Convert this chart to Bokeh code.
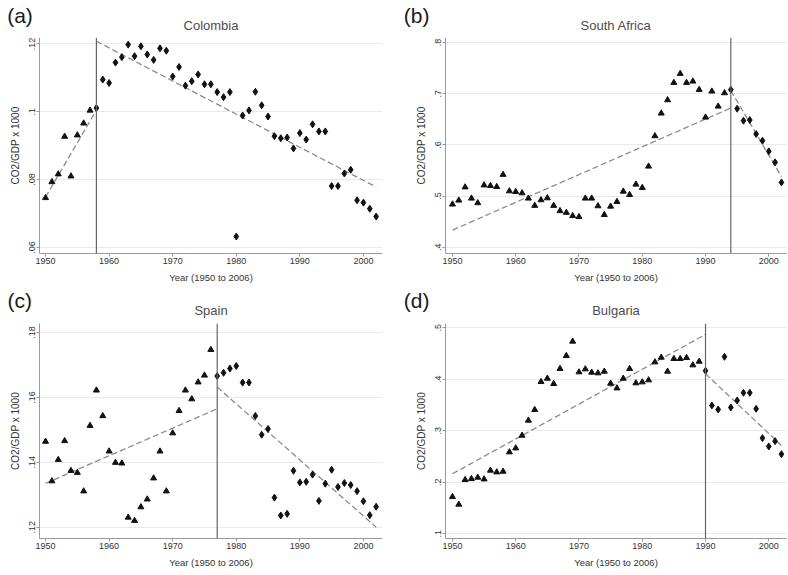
from bokeh.plotting import figure
from bokeh.layouts import gridplot
from bokeh.models import Span, FixedTicker, Title
from bokeh.embed import file_html
from bokeh.resources import INLINE

# ---------------- data ----------------
years = list(range(1950, 2003))

x_ticks = [1950, 1960, 1970, 1980, 1990, 2000]
x_tick_labels = ["1950", "1960", "1970", "1980", "1990", "2000"]

colombia = [0.0746, 0.0793, 0.0816, 0.0927, 0.0810, 0.0931, 0.0966, 0.1004, 0.1011, 0.1095,
            0.1085, 0.1145, 0.1161, 0.1198, 0.1164, 0.1193, 0.1169, 0.1153, 0.1187, 0.1180,
            0.1104, 0.1132, 0.1077, 0.1090, 0.1110, 0.1081, 0.1081, 0.1058, 0.1043, 0.1058,
            0.0632, 0.0989, 0.1004, 0.1059, 0.1019, 0.0986, 0.0928, 0.0922, 0.0924, 0.0892,
            0.0937, 0.0918, 0.0963, 0.0942, 0.0942, 0.0781, 0.0781, 0.0818, 0.0829, 0.0739,
            0.0732, 0.0714, 0.0691]
colombia_break = 1958
colombia_fit_pre_x = [1950, 1958]
colombia_fit_pre_y = [0.0748, 0.1005]
colombia_fit_post_x = [1958, 2002]
colombia_fit_post_y = [0.1208, 0.0778]
colombia_yticks = [0.06, 0.08, 0.1, 0.12]
colombia_ylabels = [".06", ".08", ".1", ".12"]

south_africa = [0.4839, 0.4916, 0.5174, 0.4955, 0.4865, 0.5213, 0.5200, 0.5181, 0.5419, 0.5097,
                0.5084, 0.5058, 0.4955, 0.4813, 0.4923, 0.4961, 0.4813, 0.4710, 0.4677, 0.4613,
                0.4594, 0.4955, 0.4955, 0.4805, 0.4635, 0.4798, 0.4889, 0.5091, 0.5026, 0.5228,
                0.5163, 0.5580, 0.6173, 0.6616, 0.6876, 0.7215, 0.7391, 0.7215, 0.7241, 0.7078,
                0.6537, 0.7046, 0.6752, 0.7013, 0.7078, 0.6707, 0.6472, 0.6485, 0.6212, 0.6081,
                0.5873, 0.5658, 0.5267]
south_africa_break = 1994
south_africa_fit_pre_x = [1950, 1994]
south_africa_fit_pre_y = [0.4335, 0.6720]
south_africa_fit_post_x = [1994, 2002]
south_africa_fit_post_y = [0.7060, 0.5380]
south_africa_yticks = [0.4, 0.5, 0.6, 0.7, 0.8]
south_africa_ylabels = [".4", ".5", ".6", ".7", ".8"]

spain = [0.1464, 0.1342, 0.1408, 0.1466, 0.1374, 0.1368, 0.1311, 0.1513, 0.1622, 0.1543,
         0.1434, 0.1399, 0.1397, 0.1230, 0.1220, 0.1262, 0.1286, 0.1351, 0.1434, 0.1311,
         0.1490, 0.1559, 0.1622, 0.1595, 0.1647, 0.1668, 0.1747, 0.1666, 0.1676, 0.1689,
         0.1697, 0.1646, 0.1646, 0.1543, 0.1485, 0.1503, 0.1291, 0.1236, 0.1241, 0.1374,
         0.1338, 0.1340, 0.1362, 0.1281, 0.1334, 0.1377, 0.1324, 0.1336, 0.1330, 0.1311,
         0.1280, 0.1237, 0.1263]
spain_break = 1977
spain_fit_pre_x = [1950, 1977]
spain_fit_pre_y = [0.1335, 0.1565]
spain_fit_post_x = [1977, 2002]
spain_fit_post_y = [0.1632, 0.1200]
spain_yticks = [0.12, 0.14, 0.16, 0.18]
spain_ylabels = [".12", ".14", ".16", ".18"]

bulgaria = [0.1718, 0.1570, 0.2049, 0.2068, 0.2094, 0.2061, 0.2230, 0.2197, 0.2210, 0.2586,
            0.2663, 0.2909, 0.3201, 0.3408, 0.3951, 0.4016, 0.3913, 0.4204, 0.4456, 0.4735,
            0.4139, 0.4197, 0.4133, 0.4120, 0.4152, 0.3919, 0.3828, 0.4016, 0.4204, 0.3926,
            0.3945, 0.3984, 0.4333, 0.4424, 0.4152, 0.4398, 0.4398, 0.4417, 0.4275, 0.4346,
            0.4165, 0.3492, 0.3414, 0.4437, 0.3453, 0.3589, 0.3738, 0.3738, 0.3427, 0.2858,
            0.2696, 0.2799, 0.2547]
bulgaria_break = 1990
bulgaria_fit_pre_x = [1950, 1990]
bulgaria_fit_pre_y = [0.2165, 0.4871]
bulgaria_fit_post_x = [1990, 2002]
bulgaria_fit_post_y = [0.4107, 0.2715]
bulgaria_yticks = [0.1, 0.2, 0.3, 0.4, 0.5]
bulgaria_ylabels = [".1", ".2", ".3", ".4", ".5"]

x_title = "Year (1950 to 2006)"
y_title = "CO2/GDP x 1000"

FONT = "Liberation Sans"


def make_title(**kw):
    try:
        return Title(**kw)
    except Exception:
        kw["standoff"] = 0
        return Title(**kw)


def make_panel(tag, name, vals, brk, fpx, fpy, fqx, fqy, yticks, ylabels,
               yr, xr, width, height, bl, br, bt, bb, tag_off, name_so, tag_so):
    p = figure(width=width, height=height, x_range=xr, y_range=yr, title=None,
               output_backend="svg", toolbar_location=None,
               min_border_left=bl, min_border_right=br,
               min_border_top=bt, min_border_bottom=bb)
    p.outline_line_color = None
    p.background_fill_color = "white"
    p.border_fill_color = "white"
    p.xgrid.grid_line_color = None
    p.ygrid.grid_line_color = "#e9e9e9"
    p.ygrid.grid_line_width = 1

    p.xaxis.ticker = FixedTicker(ticks=x_ticks)
    p.xaxis.major_label_overrides = dict(zip(x_ticks, x_tick_labels))
    yt = FixedTicker(ticks=yticks)
    p.yaxis.ticker = yt
    p.ygrid.ticker = yt
    p.yaxis.major_label_overrides = dict(zip(yticks, ylabels))
    p.yaxis.major_label_orientation = "vertical"

    for ax in (p.xaxis[0], p.yaxis[0]):
        ax.axis_line_color = "#9a9a9a"
        ax.major_tick_line_color = "#9a9a9a"
        ax.major_tick_out = 3
        ax.major_tick_in = 0
        ax.minor_tick_line_color = None
        ax.major_label_text_font = FONT
        ax.major_label_text_font_size = "9px"
        ax.major_label_text_color = "#333333"
        ax.major_label_standoff = 1
        ax.axis_label_text_font = FONT
        ax.axis_label_text_font_style = "normal"
        ax.axis_label_text_color = "#333333"
    p.xaxis.axis_label = x_title
    p.xaxis.axis_label_text_font_size = "9.5px"
    p.xaxis.axis_label_standoff = 5
    p.yaxis.axis_label = y_title
    p.yaxis.axis_label_text_font_size = "10px"
    p.yaxis.axis_label_standoff = 6

    pre_x = [y for y in years if y < brk]
    pre_y = [v for y, v in zip(years, vals) if y < brk]
    post_x = [y for y in years if y >= brk]
    post_y = [v for y, v in zip(years, vals) if y >= brk]

    p.line(fpx, fpy, line_color="#8c8c8c", line_dash="6 3", line_width=1.3)
    p.line(fqx, fqy, line_color="#8c8c8c", line_dash="6 3", line_width=1.3)
    p.add_layout(Span(location=brk, dimension="height", line_color="#666666", line_width=1.2))
    p.scatter(pre_x, pre_y, marker="triangle", size=6, color="#111111")
    p.scatter(post_x, post_y, marker="diamond", size=7, color="#111111")

    # country name (closest to the frame), then the panel letter further out
    p.add_layout(make_title(text=name, align="center", vertical_align="top",
                            standoff=name_so, text_font=FONT, text_font_size="13px",
                            text_font_style="normal", text_color="#4d4d4d"), "above")
    p.add_layout(make_title(text=tag, align="left", vertical_align="bottom",
                            offset=tag_off, standoff=tag_so, text_font=FONT,
                            text_font_size="21px", text_font_style="normal",
                            text_color="#1a1a1a"), "above")
    return p


LW, RW = 402, 386           # column widths
TH, BH = 287, 288           # row heights

pa = make_panel("(a)", "Colombia", colombia, colombia_break,
                colombia_fit_pre_x, colombia_fit_pre_y, colombia_fit_post_x, colombia_fit_post_y,
                colombia_yticks, colombia_ylabels,
                (0.0582, 0.1219), (1949.05, 2003.0), LW, TH, 39, 20, 37, 34,
                -32.3, 4.6, -23.7)
pb = make_panel("(b)", "South Africa", south_africa, south_africa_break,
                south_africa_fit_pre_x, south_africa_fit_pre_y,
                south_africa_fit_post_x, south_africa_fit_post_y,
                south_africa_yticks, south_africa_ylabels,
                (0.3878, 0.8097), (1948.9, 2002.8), RW, TH, 43, 2, 37, 34,
                -41.7, 4.6, -23.7)
pc = make_panel("(c)", "Spain", spain, spain_break,
                spain_fit_pre_x, spain_fit_pre_y, spain_fit_post_x, spain_fit_post_y,
                spain_yticks, spain_ylabels,
                (0.1165, 0.1828), (1949.05, 2003.0), LW, BH, 39, 20, 36, 37,
                -32.0, 5.6, -22.5)
pd_ = make_panel("(d)", "Bulgaria", bulgaria, bulgaria_break,
                 bulgaria_fit_pre_x, bulgaria_fit_pre_y, bulgaria_fit_post_x, bulgaria_fit_post_y,
                 bulgaria_yticks, bulgaria_ylabels,
                 (0.0909, 0.5083), (1948.9, 2002.8), RW, BH, 43, 2, 36, 37,
                 -41.7, 5.6, -22.5)

layout = gridplot([[pa, pb], [pc, pd_]], toolbar_location=None)

open("out.html", "w").write(file_html(layout, INLINE))
